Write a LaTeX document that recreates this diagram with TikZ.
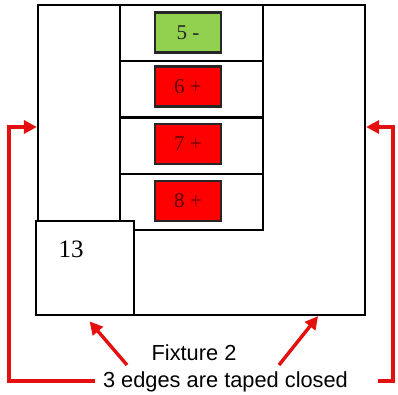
\documentclass[tikz,border=0pt]{standalone}
\usepackage{fontspec}
\setmainfont{Liberation Serif}
\newfontfamily\captionfont{Liberation Sans}
\usepackage{tikz}
\usetikzlibrary{arrows.meta,positioning}
\definecolor{fxgreen}{RGB}{146,208,80}
\definecolor{fxred}{RGB}{255,0,0}
\definecolor{fxarrow}{RGB}{228,16,16}
\definecolor{fxtext}{RGB}{90,0,0}
\tikzstyle{frame} = [rectangle, draw=black, line width=2.2pt, fill=white, inner sep=0pt]
\tikzstyle{slot} = [rectangle, draw=black, line width=2.2pt, minimum width=143pt, minimum height=56.25pt]
\tikzstyle{pin} = [rectangle, draw=black!85, line width=2.2pt, minimum width=66pt, minimum height=40pt, fill=fxred, text=fxtext, font=\fontsize{21}{24}\selectfont]
\tikzstyle{tape} = [line width=3.4pt, color=fxarrow, -{Triangle[length=13pt,width=13pt]}]

\begin{document}
\begin{tikzpicture}[x=1pt, y=-1pt]
\useasboundingbox (0,0) rectangle (398,394);
% Fixture outline and slots
\node[frame, minimum width=327pt, minimum height=310pt] (fixture) at (201.5,160) {};
\node[slot] (slot5) at (191.5,33.1) {};
\node[slot] (slot6) at (191.5,89.4) {};
\node[slot] (slot7) at (191.5,145.6) {};
\node[slot] (slot8) at (191.5,201.9) {};

\node[pin, fill=fxgreen, text=black!85] (pin5) at (188,32.5) {5 -};
\node[pin] (pin6) at (188,86.5) {6 +};
\node[pin] (pin7) at (188,144) {7 +};
\node[pin] (pin8) at (188,201) {8 +};

% Box 13
\node[frame, minimum width=98pt, minimum height=94pt] (box13) at (85,268) {};
\node[font=\fontsize{25}{28}\selectfont] (num13) at (71,249) {13};

% Caption
\node[anchor=base, font=\captionfont\fontsize{21.8}{26}\selectfont] (title) at (194,360) {Fixture 2};
\node[anchor=base, font=\captionfont\fontsize{21.8}{26}\selectfont] (note) at (225.5,387) {3 edges are taped closed};

% Taped edges
\coordinate (lfoot) at (95,381);
\coordinate (lcorner) at (9,127);
\coordinate (rfoot) at (378,381);
\coordinate (rcorner) at (393,127);
\draw[tape] (lfoot) -| (lcorner) -- (lcorner -| fixture.west);
\draw[tape] (rfoot) -| (rcorner) -- (rcorner -| fixture.east);

\coordinate (ltail) at (127,365);
\coordinate (rtail) at (279,365);
\coordinate[left=48pt of fixture.south east] (rtip);
\draw[tape, shorten >=7pt] (ltail) -- (box13.south);
\draw[tape] (rtail) -- (rtip);
\end{tikzpicture}
\end{document}
